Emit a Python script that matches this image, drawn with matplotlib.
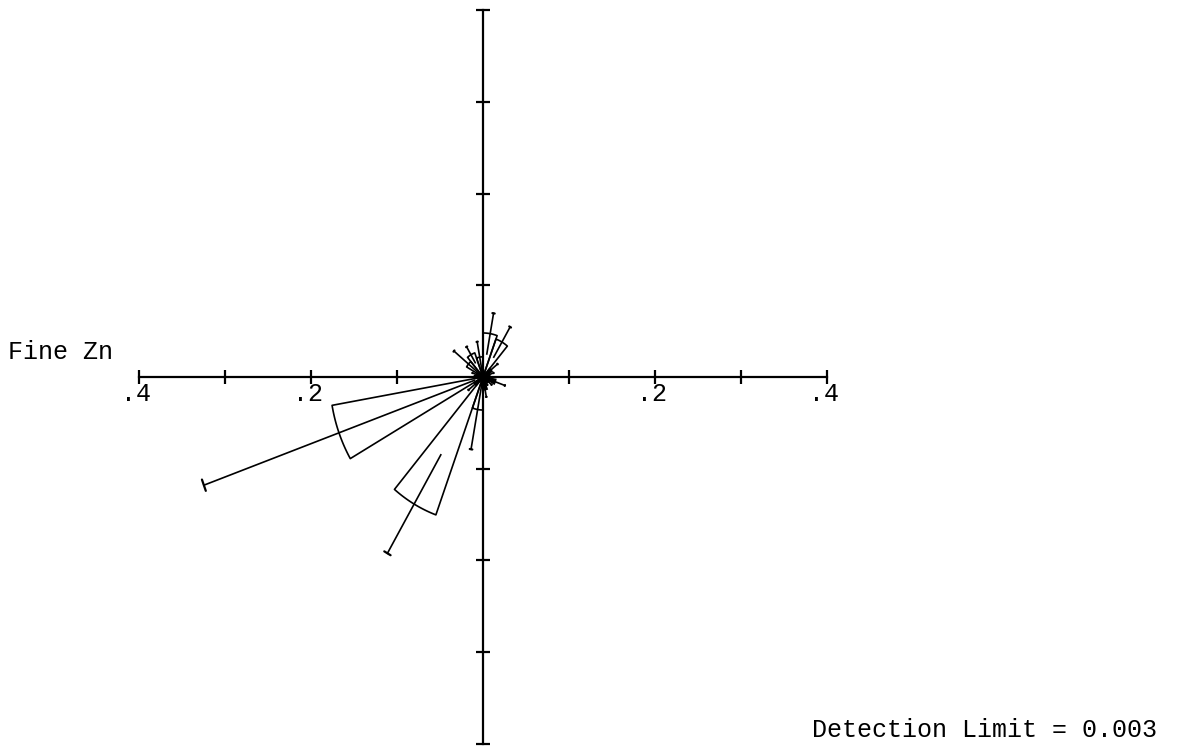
import numpy as np
import matplotlib
matplotlib.use("Agg")
import matplotlib.pyplot as plt

# wind sector centres (math angle, degrees ccw from east) and Zn concentration
sector_deg = [0, 20, 40, 60, 80, 100, 120, 140, 160, 180, 200, 220, 240, 260, 280, 300, 320, 340]
mean_conc = [0.006, 0.008, 0.012, 0.044, 0.048, 0.022, 0.028, 0.022, 0.008, 0.010,
             0.178, 0.012, 0.160, 0.036, 0.014, 0.006, 0.008, 0.015]
sd_conc = [0.004, 0.005, 0.010, 0.019, 0.0225, 0.017, 0.010, 0.022, 0.005, 0.005,
           0.167, 0.010, 0.062, 0.044, 0.008, 0.004, 0.005, 0.012]

axis_ticks = [-0.4, -0.3, -0.2, -0.1, 0.1, 0.2, 0.3, 0.4]
tick_labels = {-0.4: ".4", -0.2: ".2", 0.2: ".2", 0.4: ".4"}
title = "Fine Zn"
note = "Detection Limit = 0.003"

W, H = 1184, 748
fig = plt.figure(figsize=(W / 100, H / 100), dpi=100)
ax = fig.add_axes([0, 0, 1, 1])
ax.axis("off")

# pixel layout of the original: centre at (483, 377), 86.1 px / 0.1 in x, 91.7 px / 0.1 in y
cx, cy = 483, 377
sx, sy = 861.0, 917.0
ax.set_xlim(-cx / sx, (W - cx) / sx)
ax.set_ylim(-(H - cy) / sy, cy / sy)

mono = "Liberation Mono"
lw_axis = 1.6
lw = 1.2

# axes
ax.plot([-0.4, 0.4], [0, 0], color="black", lw=lw_axis)
ax.plot([0, 0], [-0.4, 0.4], color="black", lw=lw_axis)
for t in axis_ticks:
    ax.plot([t], [0], marker="|", ms=10, mew=lw_axis, color="black")
    ax.plot([0], [t], marker="_", ms=10, mew=lw_axis, color="black")

for t, lab in tick_labels.items():
    # digit sits over the tick, the dot to its left
    ax.annotate(lab, (t, 0), xytext=(-3, -5), textcoords="offset pixels",
                ha="center", va="top", fontsize=18, family=mono)

# sectors
half = 10.0
for deg, m, s in zip(sector_deg, mean_conc, sd_conc):
    th = np.radians(np.linspace(deg - half, deg + half, 30))
    xs = np.concatenate([[0], m * np.cos(th), [0]])
    ys = np.concatenate([[0], m * np.sin(th), [0]])
    if m < 0.016:
        ax.fill(xs, ys, color="black", lw=lw)
    else:
        ax.plot(xs, ys, color="black", lw=lw)
    # mean +- sd bar along the sector centre, cap at the outer end
    a = np.radians(deg)
    r0 = max(m - s, 0.0)
    r1 = m + s
    ax.plot([r0 * np.cos(a), r1 * np.cos(a)], [r0 * np.sin(a), r1 * np.sin(a)],
            color="black", lw=lw)
    cap = 0.019 * r1
    px, py = -np.sin(a), np.cos(a)
    ex, ey = r1 * np.cos(a), r1 * np.sin(a)
    ax.plot([ex - cap * px, ex + cap * px], [ey - cap * py, ey + cap * py],
            color="black", lw=lw + 0.4, solid_capstyle="round")

fig.text(8 / W, 1 - 352 / H, title, fontsize=18, family=mono, ha="left", va="center")
fig.text(812 / W, 1 - 737 / H, note, fontsize=18, family=mono, ha="left", va="baseline")

fig.savefig("out.png", dpi=100)
